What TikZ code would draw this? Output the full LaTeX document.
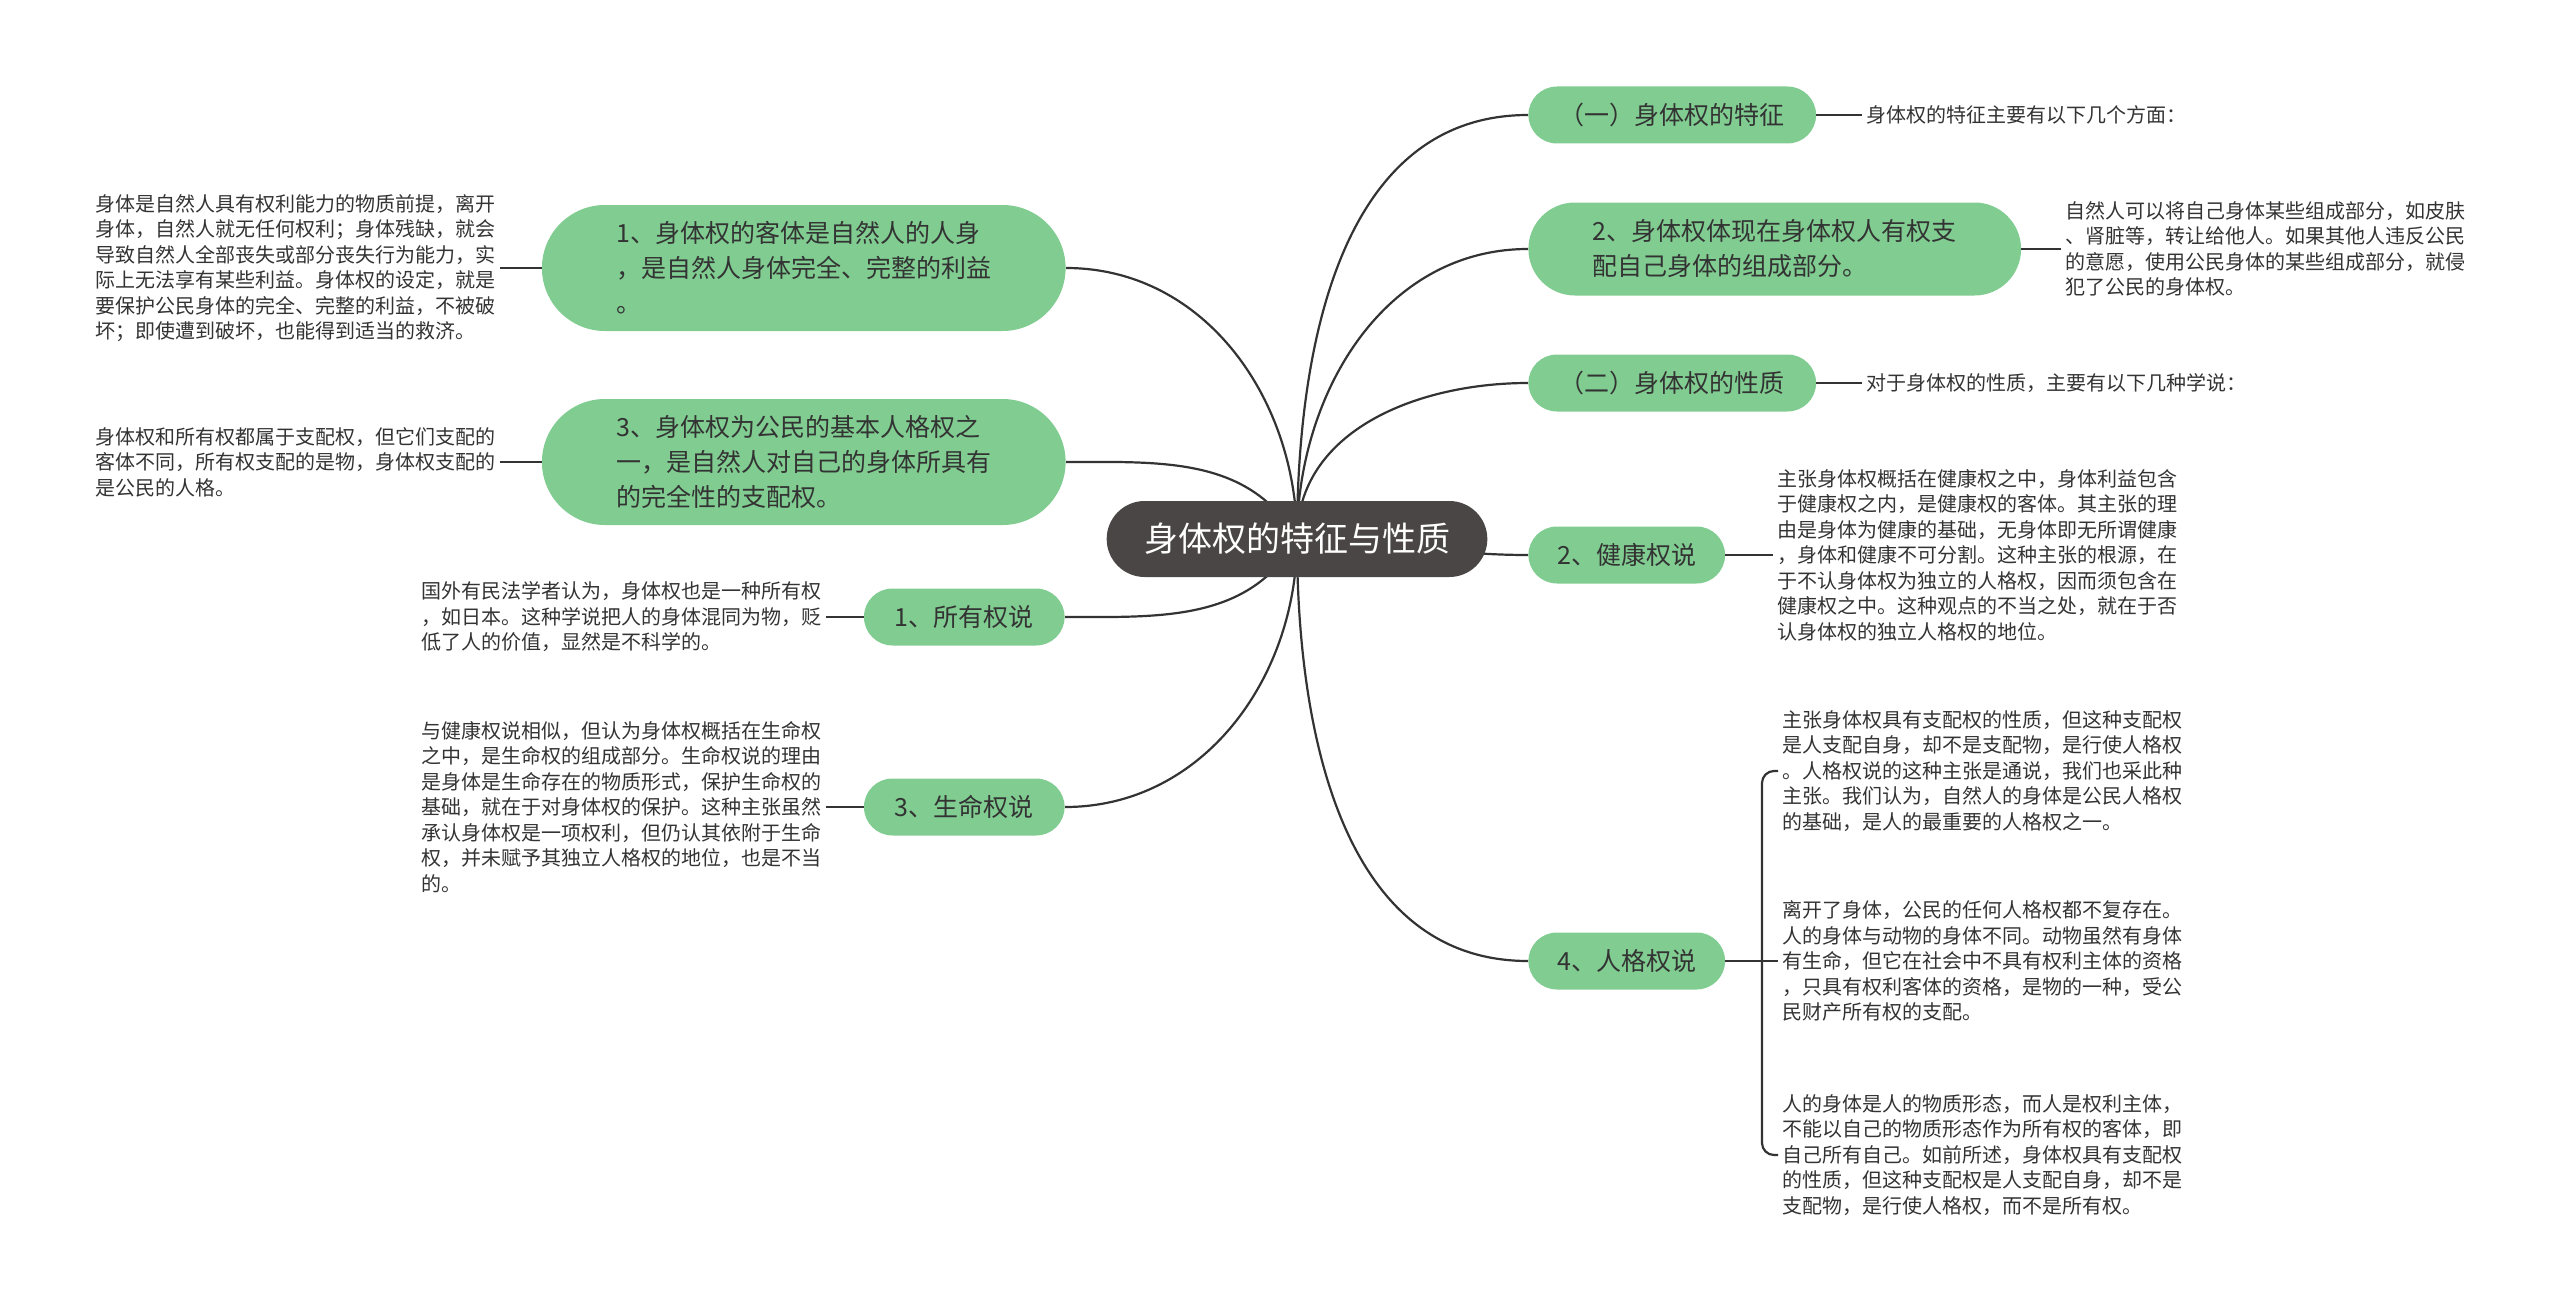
\documentclass[tikz,border=0pt]{standalone}
\usepackage{fontspec}
\setmainfont{Noto Sans CJK SC}
\usepackage{tikz}
\usetikzlibrary{shapes.misc,positioning,backgrounds}
\definecolor{rootgray}{HTML}{4B4646}
\definecolor{topicgreen}{HTML}{80CC91}
\definecolor{inkgray}{HTML}{333333}

\begin{document}
\begin{tikzpicture}[x=0.5pt, y=-0.5pt, node distance=22pt]

    % styles of the mind map
    \tikzset{
        rootnode/.style={rounded rectangle, fill=rootgray, text=white, minimum width=197pt, minimum height=38pt, font=\fontsize{17}{20}\selectfont},
        topicbox/.style={rounded rectangle, fill=topicgreen, text=inkgray, minimum height=28.5pt, align=left, font=\fontsize{12.5}{17.5}\selectfont},
        leaftext/.style={text=inkgray, align=left, inner sep=2pt, font=\fontsize{10}{12.75}\selectfont},
        link/.style={draw=inkgray, line width=1.1pt}
    }

    \useasboundingbox (0,0) rectangle (2560,1311);

    % root
    \node[rootnode] (root) at (1297,539) {身体权的特征与性质};

    % topics on the right
    \node[topicbox, anchor=west, minimum width=150.5pt] (tz) at (1528,115) {（一）身体权的特征};
    \node[topicbox, anchor=west, minimum width=253pt, minimum height=46.5pt] (zp) at (1528,249) {2、身体权体现在身体权人有权支\\配自己身体的组成部分。};
    \node[topicbox, anchor=west, minimum width=150.5pt] (xz) at (1528,383) {（二）身体权的性质};
    \node[topicbox, anchor=west, minimum width=105pt] (jk) at (1528,555) {2、健康权说};
    \node[topicbox, anchor=west, minimum width=105pt] (rg) at (1528,961) {4、人格权说};

    % topics on the left
    \node[topicbox, anchor=east, minimum width=268.5pt, minimum height=63pt] (kt) at (1066,268) {1、身体权的客体是自然人的人身\\，是自然人身体完全、完整的利益\\。};
    \node[topicbox, anchor=east, minimum width=268.5pt, minimum height=63pt] (jb) at (1066,462) {3、身体权为公民的基本人格权之\\一，是自然人对自己的身体所具有\\的完全性的支配权。};
    \node[topicbox, anchor=east, minimum width=107pt] (sy) at (1065,617) {1、所有权说};
    \node[topicbox, anchor=east, minimum width=107pt] (sm) at (1065,807) {3、生命权说};

    % texts on the right
    \node[leaftext, right=23pt of tz] (tzt) {身体权的特征主要有以下几个方面：};
    \node[leaftext, right=20pt of zp] (zpt) {自然人可以将自己身体某些组成部分，如皮肤\\、肾脏等，转让给他人。如果其他人违反公民\\的意愿，使用公民身体的某些组成部分，就侵\\犯了公民的身体权。};
    \node[leaftext, right=23pt of xz] (xzt) {对于身体权的性质，主要有以下几种学说：};
    \node[leaftext, right=24pt of jk] (jkt) {主张身体权概括在健康权之中，身体利益包含\\于健康权之内，是健康权的客体。其主张的理\\由是身体为健康的基础，无身体即无所谓健康\\，身体和健康不可分割。这种主张的根源，在\\于不认身体权为独立的人格权，因而须包含在\\健康权之中。这种观点的不当之处，就在于否\\认身体权的独立人格权的地位。};
    \node[leaftext, anchor=west] (rga) at (1778,771) {主张身体权具有支配权的性质，但这种支配权\\是人支配自身，却不是支配物，是行使人格权\\。人格权说的这种主张是通说，我们也采此种\\主张。我们认为，自然人的身体是公民人格权\\的基础，是人的最重要的人格权之一。};
    \node[leaftext, anchor=west] (rgb) at (1778,961) {离开了身体，公民的任何人格权都不复存在。\\人的身体与动物的身体不同。动物虽然有身体\\有生命，但它在社会中不具有权利主体的资格\\，只具有权利客体的资格，是物的一种，受公\\民财产所有权的支配。};
    \node[leaftext, anchor=west] (rgc) at (1778,1155) {人的身体是人的物质形态，而人是权利主体，\\不能以自己的物质形态作为所有权的客体，即\\自己所有自己。如前所述，身体权具有支配权\\的性质，但这种支配权是人支配自身，却不是\\支配物，是行使人格权，而不是所有权。};

    % texts on the left
    \node[leaftext, left=21pt of kt] (ktt) {身体是自然人具有权利能力的物质前提，离开\\身体，自然人就无任何权利；身体残缺，就会\\导致自然人全部丧失或部分丧失行为能力，实\\际上无法享有某些利益。身体权的设定，就是\\要保护公民身体的完全、完整的利益，不被破\\坏；即使遭到破坏，也能得到适当的救济。};
    \node[leaftext, left=21pt of jb] (jbt) {身体权和所有权都属于支配权，但它们支配的\\客体不同，所有权支配的是物，身体权支配的\\是公民的人格。};
    \node[leaftext, left=19pt of sy] (syt) {国外有民法学者认为，身体权也是一种所有权\\，如日本。这种学说把人的身体混同为物，贬\\低了人的价值，显然是不科学的。};
    \node[leaftext, left=19pt of sm] (smt) {与健康权说相似，但认为身体权概括在生命权\\之中，是生命权的组成部分。生命权说的理由\\是身体是生命存在的物质形式，保护生命权的\\基础，就在于对身体权的保护。这种主张虽然\\承认身体权是一项权利，但仍认其依附于生命\\权，并未赋予其独立人格权的地位，也是不当\\的。};

    % curved branches from the root
    \begin{pgfonlayer}{background}
        \draw[link] (root.center) to[out=90, in=180] (tz.west);
        \draw[link] (root.center) to[out=90, in=180] (zp.west);
        \draw[link] (root.center) to[out=90, in=180] (xz.west);
        \draw[link] (root.center) to[out=0, in=180] (jk.west);
        \draw[link] (root.center) to[out=-90, in=180] (rg.west);
        \draw[link] (root.center) to[out=90, in=0] (kt.east);
        \draw[link] (root.center) to[out=120, in=0] (jb.east);
        \draw[link] (root.center) to[out=-120, in=0] (sy.east);
        \draw[link] (root.center) to[out=-90, in=0] (sm.east);
    \end{pgfonlayer}

    % short links to the texts
    \draw[link] (tz.east) -- (tzt.west);
    \draw[link] (zp.east) -- (zpt.west);
    \draw[link] (xz.east) -- (xzt.west);
    \draw[link] (jk.east) -- (jkt.west);
    \draw[link] (kt.west) -- (ktt.east);
    \draw[link] (jb.west) -- (jbt.east);
    \draw[link] (sy.west) -- (syt.east);
    \draw[link] (sm.west) -- (smt.east);

    % bracket of 4
    \coordinate (rgj) at (1762,961);
    \draw[link] (rg.east) -- (rgj);
    \draw[link, rounded corners=6pt] (rgj) |- (rga.west);
    \draw[link] (rgj) -- (rgb.west);
    \draw[link, rounded corners=6pt] (rgj) |- (rgc.west);

\end{tikzpicture}
\end{document}
